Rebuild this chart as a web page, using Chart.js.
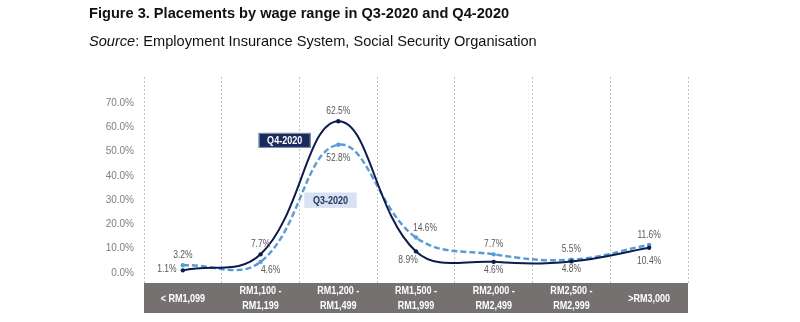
<!DOCTYPE html>
<html>
<head>
<meta charset="utf-8">
<script src="https://cdn.jsdelivr.net/npm/chart.js@4.4.0/dist/chart.umd.min.js"></script>
<style>
    html, body { margin: 0; padding: 0; background: #ffffff; }
    .container-chart { position: relative; width: 800px; height: 322px; }
    #chart-wage { display: block; width: 800px; height: 322px; }
</style>
</head>
<body>
<div class="container-chart"><canvas id="chart-wage" width="800" height="322"></canvas></div>
<script>
// Wage bands on the x axis (two lines where the label wraps)
var wageRanges = [
    ['< RM1,099'],
    ['RM1,100 -', 'RM1,199'],
    ['RM1,200 -', 'RM1,499'],
    ['RM1,500 -', 'RM1,999'],
    ['RM2,000 -', 'RM2,499'],
    ['RM2,500 -', 'RM2,999'],
    ['>RM3,000']
];
var seriesNames = ['Q4-2020', 'Q3-2020'];
// Share of placements, %
var q4Values = [1.1, 7.7, 62.5, 8.9, 4.6, 4.8, 10.4];
var q3Values = [3.2, 4.6, 52.8, 14.6, 7.7, 5.5, 11.6];
var yTicks = [0, 10, 20, 30, 40, 50, 60, 70];

// where each value label sits around its point
var q4LabelSpots = ['left', 'above', 'above', 'belowLeft', 'below', 'below', 'belowFar'];
var q3LabelSpots = ['above', 'belowRight', 'belowFar', 'aboveRight', 'above', 'above', 'above'];
var spotOffsets = {
    left: [-16, -1],
    above: [0, -10],
    below: [0, 8],
    belowFar: [0, 13],
    belowLeft: [-8, 9],
    belowRight: [10, 8],
    aboveRight: [9, -9]
};

var sans = '"Liberation Sans", Arial, sans-serif';
var navy = '#0d1b4d';
var blue = '#5b9bd5';

// squeeze Liberation Sans sideways so it reads like a narrow face
function narrowText(ctx, text, x, y, squeeze) {
    ctx.save();
    ctx.translate(x, y);
    ctx.scale(squeeze, 1);
    ctx.fillText(text, 0, 0);
    ctx.restore();
}

// Title and source line above the plot
var headingPlugin = {
    id: 'heading',
    afterDraw: function (chart) {
        var ctx = chart.ctx;
        ctx.save();
        ctx.fillStyle = '#111111';
        ctx.textBaseline = 'alphabetic';
        ctx.textAlign = 'left';
        ctx.font = 'bold 14.6px ' + sans;
        ctx.fillText('Figure 3. Placements by wage range in Q3-2020 and Q4-2020', 89, 18);
        ctx.font = 'italic 14.6px ' + sans;
        ctx.fillText('Source', 89, 45.5);
        var w = ctx.measureText('Source').width;
        ctx.font = '14.6px ' + sans;
        ctx.fillText(': Employment Insurance System, Social Security Organisation', 89 + w, 45.5);
        ctx.restore();
    }
};

// Grey band behind the wage range labels
var bandPlugin = {
    id: 'band',
    afterDraw: function (chart) {
        var ctx = chart.ctx;
        var xs = chart.scales.x;
        ctx.save();
        ctx.fillStyle = '#767171';
        ctx.fillRect(xs.left, xs.top, xs.right - xs.left, xs.bottom - xs.top);
        ctx.fillStyle = '#ffffff';
        ctx.font = 'bold 11px ' + sans;
        ctx.textAlign = 'center';
        ctx.textBaseline = 'middle';
        var mid = (xs.top + xs.bottom) / 2 + 0.5;
        wageRanges.forEach(function (lines, i) {
            var x = xs.getPixelForValue(i);
            var lh = 14.5;
            var y0 = mid - (lines.length - 1) * lh / 2;
            lines.forEach(function (t, k) {
                narrowText(ctx, t, x, y0 + k * lh, 0.82);
            });
        });
        ctx.restore();
    }
};

// Percent labels next to each point, plus the series tags
var valueLabelPlugin = {
    id: 'valueLabels',
    afterDatasetsDraw: function (chart) {
        var ctx = chart.ctx;
        var spots = [q4LabelSpots, q3LabelSpots];
        ctx.save();
        ctx.font = '10px ' + sans;
        ctx.fillStyle = '#595959';
        ctx.textAlign = 'center';
        ctx.textBaseline = 'middle';
        chart.data.datasets.forEach(function (ds, di) {
            var meta = chart.getDatasetMeta(di);
            meta.data.forEach(function (pt, i) {
                var off = spotOffsets[spots[di][i]];
                narrowText(ctx, ds.data[i].toFixed(1) + '%', pt.x + off[0], pt.y + off[1], 0.85);
            });
        });

        // series tags
        var xs = chart.scales.x;
        var ys = chart.scales.y;
        var tags = [
            { at: [1.31, 54.6], fill: '#1b2a5c', stroke: '#8497b0', text: '#ffffff' },
            { at: [1.9, 30.0], fill: '#d9e2f3', stroke: '#d9e2f3', text: '#1f3864' }
        ];
        ctx.font = 'bold 11px ' + sans;
        tags.forEach(function (tag, i) {
            var cx = xs.getPixelForValue(tag.at[0]);
            var cy = ys.getPixelForValue(tag.at[1]);
            var w = 52, h = 15;
            ctx.fillStyle = tag.fill;
            ctx.fillRect(cx - w / 2, cy - h / 2, w, h);
            ctx.strokeStyle = tag.stroke;
            ctx.lineWidth = 1;
            ctx.strokeRect(cx - w / 2 + 0.5, cy - h / 2 + 0.5, w - 1, h - 1);
            ctx.fillStyle = tag.text;
            narrowText(ctx, seriesNames[i], cx, cy + 0.5, 0.82);
        });
        ctx.restore();
    }
};

const chartWage = document.getElementById('chart-wage').getContext('2d');
const myChart = new Chart(chartWage, {
    type: 'line',
    data: {
        labels: wageRanges.map(function (l) { return l.join(' '); }),
        datasets: [{
            label: seriesNames[0],
            data: q4Values,
            borderColor: navy,
            backgroundColor: navy,
            borderWidth: 2,
            pointRadius: 2.2,
            pointBackgroundColor: navy,
            pointBorderWidth: 0,
            tension: 0.4
        }, {
            label: seriesNames[1],
            data: q3Values,
            borderColor: blue,
            backgroundColor: blue,
            borderWidth: 2.4,
            borderDash: [6, 3],
            pointRadius: 2.2,
            pointBackgroundColor: blue,
            pointBorderWidth: 0,
            tension: 0.4
        }]
    },
    options: {
        responsive: false,
        animation: false,
        layout: { padding: { left: 0, top: 77, right: 112, bottom: 9 } },
        plugins: {
            legend: { display: false },
            tooltip: { enabled: false }
        },
        scales: {
            x: {
                type: 'category',
                offset: true,
                grid: { display: true, offset: true, color: '#bfbfbf', lineWidth: 1, drawTicks: false },
                border: { display: false, dash: [2, 2] },
                ticks: { display: false },
                afterFit: function (scale) { scale.height = 30; }
            },
            y: {
                min: -4.1,
                max: 80.7,
                grid: { display: false, drawTicks: false },
                border: { display: false },
                afterBuildTicks: function (scale) {
                    scale.ticks = yTicks.map(function (v) { return { value: v }; });
                },
                ticks: {
                    padding: 10,
                    color: '#7f7f7f',
                    font: { family: sans, size: 10 },
                    callback: function (v) { return v.toFixed(1) + '%'; }
                },
                afterFit: function (scale) { scale.width = 144; }
            }
        }
    },
    plugins: [headingPlugin, bandPlugin, valueLabelPlugin]
});
</script>
</body>
</html>
